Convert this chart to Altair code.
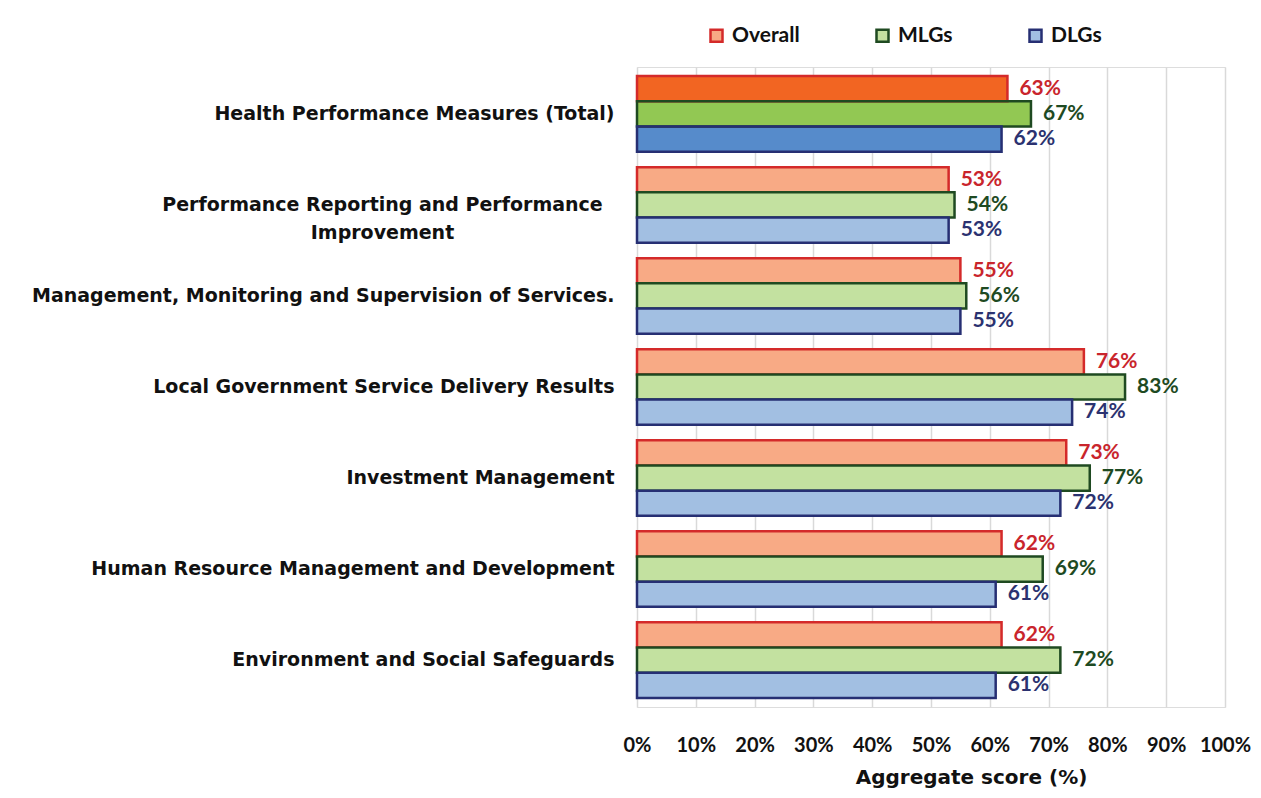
import altair as alt
import pandas as pd

categories = [
    "Health Performance Measures (Total)",
    "Performance Reporting and Performance Improvement",
    "Management, Monitoring and Supervision of Services.",
    "Local Government Service Delivery Results",
    "Investment Management",
    "Human Resource Management and Development",
    "Environment and Social Safeguards",
]
wrapped_label = ["Performance Reporting and Performance", "Improvement"]
series = ["Overall", "MLGs", "DLGs"]
overall = [63, 53, 55, 76, 73, 62, 62]
mlgs = [67, 54, 56, 83, 77, 69, 72]
dlgs = [62, 53, 55, 74, 72, 61, 61]
x_ticks = [0, 10, 20, 30, 40, 50, 60, 70, 80, 90, 100]

solid_fill = ["#F26522", "#92C853", "#568BCB"]
hatch_fill = ["#F8AA85", "#C3E1A0", "#A2BFE2"]
stroke_col = ["#D42A2A", "#1F4A21", "#262F73"]
label_col = ["#C9252C", "#1E4A22", "#2B3270"]

rows = []
for i, c in enumerate(categories):
    for s, vals in zip(series, [overall, mlgs, dlgs]):
        rows.append({"category": c, "series": s, "value": vals[i]})
df = pd.DataFrame(rows)

CAT_FONT = "DejaVu Sans"
FONT = "Lato"
first = categories[0]
wrapped = categories[1]

y_enc = alt.Y(
    "category:N",
    sort=categories,
    scale=alt.Scale(paddingInner=0.17, paddingOuter=0.1),
    axis=alt.Axis(
        title=None, ticks=False, domain=False, grid=False,
        labelFont=CAT_FONT, labelFontSize=19, labelFontWeight="bold",
        labelColor="#111111", labelLimit=640, labelLineHeight=28,
        labelExpr=f"datum.value == '{wrapped}' ? {wrapped_label} : datum.label",
        labelAlign={"condition": {"test": f"datum.value == '{wrapped}'", "value": "center"}, "value": "right"},
        labelPadding={"condition": {"test": f"datum.value == '{wrapped}'", "value": 255}, "value": 23},
    ),
)
x_enc = alt.X(
    "value:Q",
    scale=alt.Scale(domain=[0, 100]),
    axis=alt.Axis(
        values=x_ticks, labelExpr="datum.value + '%'", ticks=False, domain=False,
        grid=True, gridColor="#D9D9D9", gridWidth=1.5, labelOverlap=False, labelFlush=False,
        labelFont=FONT, labelFontSize=20, labelFontWeight="bold", labelColor="#111111",
        labelPadding=28,
        title="Aggregate score (%)", titleFont=CAT_FONT, titleFontSize=20, titleFontWeight="bold",
        titleColor="#111111", titleX=334, titleY=70, titleBaseline="middle", titleAlign="center",
    ),
)
yoff = alt.YOffset("series:N", sort=series, scale=alt.Scale(paddingInner=0, paddingOuter=0))

base = alt.Chart(df)

solid = base.transform_filter(alt.datum.category == first).mark_bar(strokeWidth=0).encode(
    x=x_enc, y=y_enc, yOffset=yoff,
    color=alt.Color("series:N", sort=series, scale=alt.Scale(domain=series, range=solid_fill), legend=None),
)

main = base.mark_bar(strokeWidth=2.5).encode(
    x=x_enc, y=y_enc, yOffset=yoff,
    fill=alt.Fill("series:N", sort=series, scale=alt.Scale(domain=series, range=hatch_fill),
                  legend=alt.Legend(title=None, orient="none", legendX=69, legendY=-42,
                                    direction="horizontal", columnPadding=71, symbolType="square",
                                    symbolSize=144, symbolStrokeWidth=2.5, labelFont=FONT,
                                    labelFontSize=21, labelFontWeight="bold", labelColor="#111111",
                                    labelOffset=5, padding=0)),
    stroke=alt.Stroke("series:N", sort=series, scale=alt.Scale(domain=series, range=stroke_col)),
    fillOpacity=alt.condition(alt.datum.category == first, alt.value(0), alt.value(1)),
)

labels = base.transform_calculate(pct="datum.value + '%'").mark_text(
    align="left", baseline="middle", dx=12, font=FONT, fontSize=21, fontWeight="bold"
).encode(
    x=x_enc, y=y_enc, yOffset=yoff,
    text="pct:N",
    color=alt.Color("series:N", sort=series, scale=alt.Scale(domain=series, range=label_col), legend=None),
)

chart = alt.layer(solid, main, labels).resolve_scale(color="independent").properties(
    width=588, height=640,
    autosize=alt.AutoSizeParams(type="none"),
    padding={"left": 629, "top": 59, "right": 28, "bottom": 83},
).configure_view(stroke=None).configure(background="white")

chart.save("out.html", embed_options={"renderer": "svg", "actions": False})
